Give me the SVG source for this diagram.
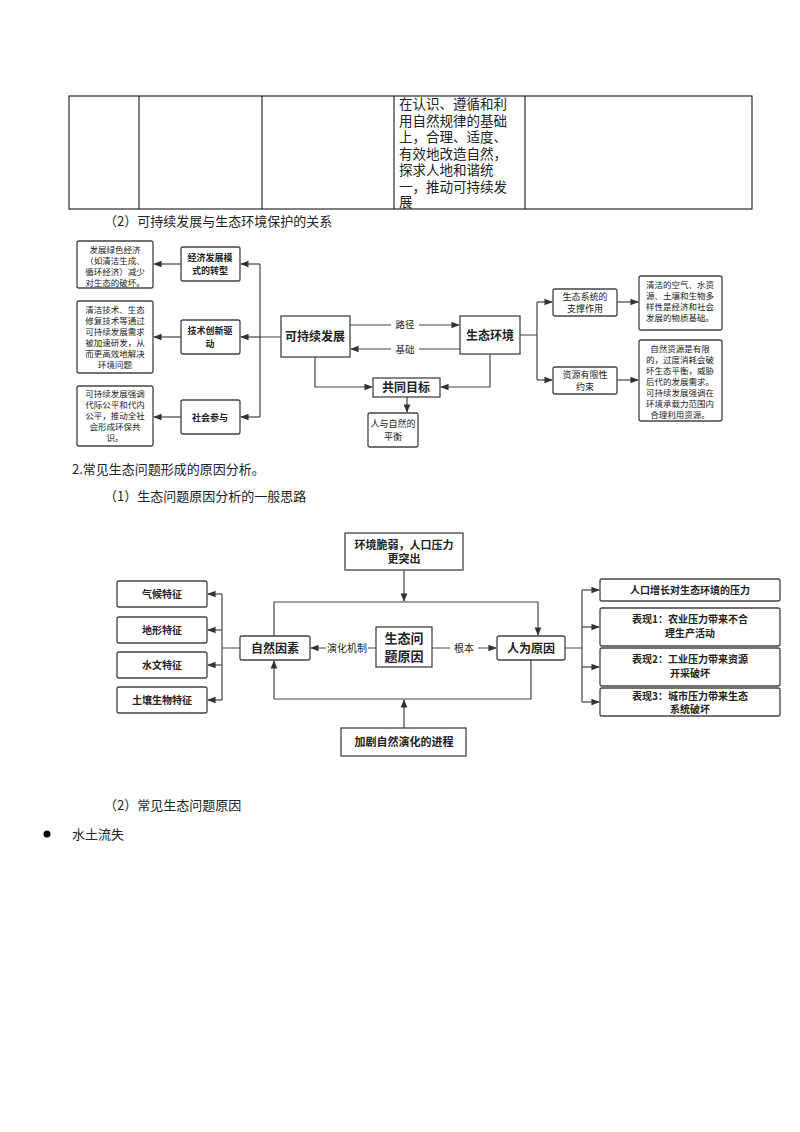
<svg xmlns="http://www.w3.org/2000/svg" width="800" height="1132" viewBox="0 0 800 1132">
<defs>
<marker id="ah" viewBox="0 0 10 10" refX="9" refY="5" markerWidth="7" markerHeight="7" orient="auto-start-reverse"><path d="M0,1 L10,5 L0,9 z" fill="#333"/></marker>
<style>
text{font-family:"Noto Sans CJK SC","Liberation Sans",sans-serif;fill:#222}
.tb{fill:none;stroke:#000;stroke-width:1}
.b{fill:#fff;stroke:#444;stroke-width:1.3}
.l{fill:none;stroke:#444;stroke-width:1.2}
.a{fill:none;stroke:#444;stroke-width:1.2;marker-end:url(#ah)}
.s{font-size:8.5px;text-anchor:middle}
.m{font-size:10px;text-anchor:middle;font-weight:bold}
.n{font-size:12px;text-anchor:middle;font-weight:bold}
.p{font-size:13px}
.lb{font-size:9.5px;text-anchor:middle}
</style>
</defs>
<rect width="800" height="1132" fill="#fff"/>
<g id="table">
<rect class="tb" x="69" y="96" width="683" height="113"/>
<line class="tb" x1="139" y1="96" x2="139" y2="209"/>
<line class="tb" x1="262" y1="96" x2="262" y2="209"/>
<line class="tb" x1="394" y1="96" x2="394" y2="209"/>
<line class="tb" x1="525" y1="96" x2="525" y2="209"/>
<text font-size="13.5" x="399"><tspan x="399" y="109">在认识、遵循和利</tspan><tspan x="399" y="125.5">用自然规律的基础</tspan><tspan x="399" y="142">上，合理、适度、</tspan><tspan x="399" y="158.5">有效地改造自然，</tspan><tspan x="399" y="175">探求人地和谐统</tspan><tspan x="399" y="191.5">一，推动可持续发</tspan><tspan x="399" y="207">展</tspan></text>
</g>
<text class="p" x="104" y="226">（2）可持续发展与生态环境保护的关系</text>
<g id="connectors1">
<path class="l" d="M281,337 H260 M260,264 V417"/>
<path class="a" d="M260,264 H241"/><path class="a" d="M260,337 H241"/><path class="a" d="M260,417 H241"/>
<path class="a" d="M181,264 H154"/><path class="a" d="M181,337 H154"/><path class="a" d="M181,417 H154"/>
<path class="a" d="M350,325 H459"/><path class="a" d="M460,349 H351"/>
<path class="a" d="M315,357 V387 H372"/><path class="a" d="M490,354 V387 H441"/>
<path class="a" d="M407,397 V412"/>
<path class="l" d="M520,335 H537 M537,302 V380"/>
<path class="a" d="M537,302 H552"/><path class="a" d="M537,380 H552"/>
<path class="a" d="M617,302 H638"/><path class="a" d="M617,380 H638"/>
<rect x="391" y="318" width="28" height="12" fill="#fff"/><text class="lb" x="405" y="328">路径</text>
<rect x="391" y="343" width="28" height="12" fill="#fff"/><text class="lb" x="405" y="353">基础</text>
</g>
<g id="n1"><rect class="b" x="77" y="241" width="76" height="47" rx="2"/><text class="s"><tspan x="115" y="253">发展绿色经济</tspan><tspan x="115" y="264">（如清洁生成、</tspan><tspan x="115" y="275">循环经济）减少</tspan><tspan x="115" y="286">对生态的破坏。</tspan></text></g>
<g id="n2"><rect class="b" x="77" y="301" width="76" height="72" rx="2"/><text class="s"><tspan x="115" y="313">清洁技术、生态</tspan><tspan x="115" y="324">修复技术等通过</tspan><tspan x="115" y="335">可持续发展需求</tspan><tspan x="115" y="346">被加速研发，从</tspan><tspan x="115" y="357">而更高效地解决</tspan><tspan x="115" y="368">环境问题</tspan></text></g>
<g id="n3"><rect class="b" x="77" y="386" width="76" height="60" rx="2"/><text class="s"><tspan x="115" y="397">可持续发展强调</tspan><tspan x="115" y="408">代际公平和代内</tspan><tspan x="115" y="419">公平，推动全社</tspan><tspan x="115" y="430">会形成环保共</tspan><tspan x="115" y="441">识。</tspan></text></g>
<g id="n4"><rect class="b" x="181" y="247" width="59" height="34" rx="2"/><text class="m" style="font-size:9px"><tspan x="210" y="261">经济发展模</tspan><tspan x="210" y="274">式的转型</tspan></text></g>
<g id="n5"><rect class="b" x="181" y="320" width="59" height="34" rx="2"/><text class="m" style="font-size:9px"><tspan x="210" y="334">技术创新驱</tspan><tspan x="210" y="347">动</tspan></text></g>
<g id="n6"><rect class="b" x="181" y="400" width="59" height="34" rx="2"/><text class="m" style="font-size:9px" x="210" y="421">社会参与</text></g>
<g id="n7"><rect class="b" x="281" y="316" width="69" height="41"/><text class="n" x="315" y="341">可持续发展</text></g>
<g id="n8"><rect class="b" x="460" y="316" width="60" height="38"/><text class="n" x="490" y="340">生态环境</text></g>
<g id="n9"><rect class="b" x="373" y="378" width="67" height="19"/><text class="n" x="406" y="392">共同目标</text></g>
<g id="n10"><rect class="b" x="368" y="413" width="50" height="34" rx="2"/><text class="s" style="font-size:9px"><tspan x="393" y="427">人与自然的</tspan><tspan x="393" y="440">平衡</tspan></text></g>
<g id="n11"><rect class="b" x="553" y="289" width="64" height="27" rx="2"/><text class="lb" style="font-size:9px"><tspan x="585" y="300">生态系统的</tspan><tspan x="585" y="312">支撑作用</tspan></text></g>
<g id="n12"><rect class="b" x="553" y="367" width="64" height="27" rx="2"/><text class="lb" style="font-size:9px"><tspan x="585" y="378">资源有限性</tspan><tspan x="585" y="390">约束</tspan></text></g>
<g id="n13"><rect class="b" x="639" y="276" width="83" height="54" rx="2"/><text class="s"><tspan x="680" y="288">清洁的空气、水资</tspan><tspan x="680" y="299">源、土壤和生物多</tspan><tspan x="680" y="310">样性是经济和社会</tspan><tspan x="680" y="321">发展的物质基础。</tspan></text></g>
<g id="n14"><rect class="b" x="639" y="340" width="83" height="81" rx="2"/><text class="s"><tspan x="680" y="352">自然资源是有限</tspan><tspan x="680" y="363">的，过度消耗会破</tspan><tspan x="680" y="374">坏生态平衡，威胁</tspan><tspan x="680" y="385">后代的发展需求。</tspan><tspan x="680" y="396">可持续发展强调在</tspan><tspan x="680" y="407">环境承载力范围内</tspan><tspan x="680" y="418">合理利用资源。</tspan></text></g>
<text class="p" x="72" y="474">2.常见生态问题形成的原因分析。</text>
<text class="p" x="104" y="501">（1）生态问题原因分析的一般思路</text>
<g id="connectors2">
<path class="a" d="M404,570 V601"/>
<path class="l" d="M274,636 V602 H538"/><path class="a" d="M538,602 V635"/>
<path class="l" d="M531,660 V699 H274"/><path class="a" d="M274,699 V661"/>
<path class="a" d="M404,728 V700"/>
<path class="a" d="M376,648 H311"/><path class="a" d="M432,648 H496"/>
<rect x="326" y="641" width="42" height="14" fill="#fff"/><text class="lb" style="font-size:10px" x="347" y="652">演化机制</text>
<rect x="450" y="641" width="28" height="14" fill="#fff"/><text class="lb" style="font-size:10px" x="464" y="652">根本</text>
<path class="l" d="M240,648 H222 M222,594 V700"/>
<path class="a" d="M222,594 H208"/><path class="a" d="M222,630 H208"/><path class="a" d="M222,665 H208"/><path class="a" d="M222,700 H208"/>
<path class="l" d="M565,648 H582 M582,590 V702"/>
<path class="a" d="M582,590 H599"/><path class="a" d="M582,627 H599"/><path class="a" d="M582,667 H599"/><path class="a" d="M582,702 H599"/>
</g>
<g id="m1"><rect class="b" x="345" y="533" width="118" height="37"/><text class="m" style="font-size:11px"><tspan x="404" y="549">环境脆弱，人口压力</tspan><tspan x="404" y="563">更突出</tspan></text></g>
<g id="m2"><rect class="b" x="240" y="636" width="70" height="24" rx="2"/><text class="n" x="275" y="653">自然因素</text></g>
<g id="m3"><rect class="b" x="376" y="627" width="56" height="40"/><text class="n" style="font-size:13px"><tspan x="404" y="643">生态问</tspan><tspan x="404" y="661">题原因</tspan></text></g>
<g id="m4"><rect class="b" x="497" y="636" width="68" height="24" rx="2"/><text class="n" x="531" y="653">人为原因</text></g>
<g id="m5"><rect class="b" x="341" y="728" width="125" height="28"/><text class="m" style="font-size:11px" x="404" y="746">加剧自然演化的进程</text></g>
<g id="f1"><rect class="b" x="117" y="581" width="90" height="26" rx="2"/><text class="m" x="162" y="598">气候特征</text></g>
<g id="f2"><rect class="b" x="117" y="617" width="90" height="26" rx="2"/><text class="m" x="162" y="634">地形特征</text></g>
<g id="f3"><rect class="b" x="117" y="652" width="90" height="26" rx="2"/><text class="m" x="162" y="669">水文特征</text></g>
<g id="f4"><rect class="b" x="117" y="687" width="90" height="26" rx="2"/><text class="m" x="162" y="704">土壤生物特征</text></g>
<g id="r1"><rect class="b" x="600" y="579" width="180" height="22" rx="2"/><text class="m" x="690" y="594">人口增长对生态环境的压力</text></g>
<g id="r2"><rect class="b" x="600" y="608" width="180" height="38" rx="2"/><text class="m"><tspan x="690" y="623">表现1：农业压力带来不合</tspan><tspan x="690" y="637">理生产活动</tspan></text></g>
<g id="r3"><rect class="b" x="600" y="648" width="180" height="38" rx="2"/><text class="m"><tspan x="690" y="663">表现2：工业压力带来资源</tspan><tspan x="690" y="677">开采破坏</tspan></text></g>
<g id="r4"><rect class="b" x="600" y="688" width="180" height="28" rx="2"/><text class="m"><tspan x="690" y="700">表现3：城市压力带来生态</tspan><tspan x="690" y="713">系统破坏</tspan></text></g>
<text class="p" x="104" y="810">（2）常见生态问题原因</text>
<circle cx="47" cy="834" r="3.5" fill="#000"/>
<text class="p" x="72" y="839">水土流失</text>
</svg>
